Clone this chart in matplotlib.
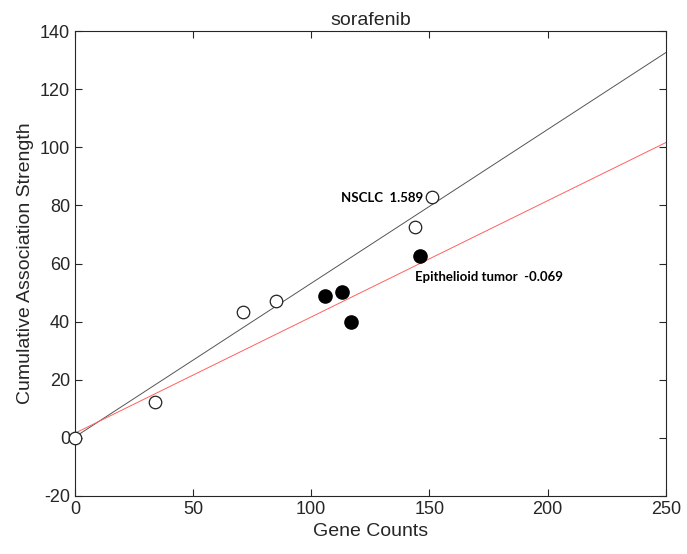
import numpy as np
import matplotlib
matplotlib.use("Agg")
import matplotlib.pyplot as plt
from matplotlib import font_manager

# open circles (NSCLC) and filled circles (Epithelioid tumor)
nsclc_x = [0, 34, 71, 85, 144, 151]
nsclc_y = [0, 12.2, 43.3, 47.2, 72.5, 83.0]
epi_x = [106, 113, 117, 146]
epi_y = [48.9, 50.1, 40.0, 62.6]

# fitted lines: intercept, slope
nsclc_fit = (0.3, 0.529)
epi_fit = (1.6, 0.400)

line_x = np.array([0, 250])

names = {f.name for f in font_manager.fontManager.ttflist}
print(sorted(n for n in names if 'Liberation' in n or 'Narrow' in n or 'Condensed' in n))
narrow = 'Liberation Sans Narrow' if 'Liberation Sans Narrow' in names else 'Liberation Sans'

plt.rcParams['font.family'] = [narrow, 'DejaVu Sans']
plt.rcParams['axes.unicode_minus'] = False

fig = plt.figure(figsize=(6.87, 5.54), dpi=100)
ax = fig.add_axes([0.109, 0.1047, 0.860, 0.8393])

ax.plot(line_x, nsclc_fit[0] + nsclc_fit[1] * line_x, color='#555555', lw=0.7, zorder=1)
ax.plot(line_x, epi_fit[0] + epi_fit[1] * line_x, color='#ff6060', lw=0.7, zorder=1)

ax.plot(nsclc_x, nsclc_y, 'o', ms=9, mfc='white', mec='#222222', mew=0.9,
        clip_on=False, zorder=3)
ax.plot(epi_x, epi_y, 'o', ms=9.5, mfc='black', mec='black', zorder=3)

ax.text(147.5, 82.5, 'NSCLC  1.589', ha='right', va='center', fontsize=9.5,
        fontweight='bold', family=['Lato', 'DejaVu Sans'])
ax.text(144, 55.5, 'Epithelioid tumor  -0.069', ha='left', va='center', fontsize=9.5,
        fontweight='bold', family=['Lato', 'DejaVu Sans'])

ax.set_xlim(0, 250)
ax.set_ylim(-20, 140)
ax.set_xticks(np.arange(0, 251, 50))
ax.set_yticks(np.arange(-20, 141, 20))
ax.tick_params(direction='in', top=True, right=True, length=5, width=0.8,
               labelsize=13, colors='#262626')
for s in ax.spines.values():
    s.set_color('#262626')
    s.set_linewidth(0.8)

ax.set_xlabel('Gene Counts', fontsize=14, color='#262626')
ax.set_ylabel('Cumulative Association Strength', fontsize=14, color='#262626',
              family=['Liberation Sans', 'DejaVu Sans'])
ax.set_title('sorafenib', fontsize=14, color='#262626', pad=4)

fig.savefig('out.png', dpi=100)
